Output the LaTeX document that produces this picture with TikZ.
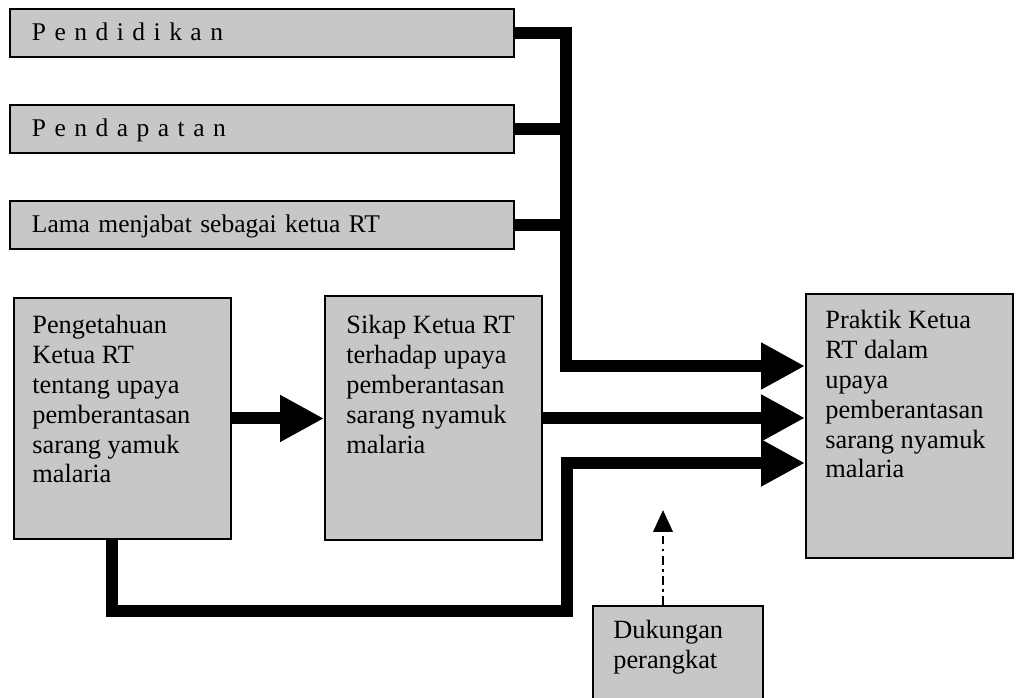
\documentclass[tikz,border=0pt]{standalone}
\usepackage{fontspec}
\setmainfont{Liberation Serif}
\usetikzlibrary{arrows.meta}
\definecolor{boxgray}{gray}{0.78}

\begin{document}
\begin{tikzpicture}[x=0.02cm, y=-0.02cm,
	box/.style={draw=black, line width=1.1pt, fill=boxgray, inner sep=0pt},
	topbox/.style={box, minimum height=0.96cm, text width=9.2cm, inner xsep=0.44cm,
		align=left, text height=0.36cm, text depth=0.06cm, font=\fontsize{14.5}{16}\selectfont},
	txt/.style={align=left, inner sep=0pt, font=\fontsize{15}{17}\selectfont},
	tebal/.style={line width=6.8pt},
	panah/.style={tebal, -{Triangle[length=25pt, width=25pt]}},
	putus/.style={line width=1.6pt, dash pattern=on 5pt off 2.5pt on 1.5pt off 2.5pt,
		-{Triangle[length=12.5pt, width=11pt]}}]
	\useasboundingbox (0,0) rectangle (1016,697);
	\clip (0,0) rectangle (1016,697);
	% kotak atas
	\node[topbox, anchor=north west] (pendidikan) at (9,8) {P e n d i d i k a n};
	\node[topbox, anchor=north west] (pendapatan) at (9,104) {P e n d a p a t a n};
	\node[topbox, anchor=north west] (lama) at (9,200) {Lama menjabat sebagai ketua RT};
	% kotak besar
	\node[box, minimum width=4.34cm, minimum height=4.82cm, anchor=north west]
		(pengetahuan) at (13,297) {};
	\node[txt, anchor=north west] (pengetahuanteks) at ([shift={(19,18)}]pengetahuan.north west)
		{Pengetahuan\\Ketua RT\\tentang upaya\\pemberantasan\\sarang yamuk\\malaria};
	\node[box, minimum width=4.34cm, minimum height=4.88cm, anchor=north west]
		(sikap) at (324,295) {};
	\node[txt, anchor=north west] (sikapteks) at ([shift={(22,20)}]sikap.north west)
		{Sikap Ketua RT\\terhadap upaya\\pemberantasan\\sarang nyamuk\\malaria};
	\node[box, minimum width=4.14cm, minimum height=5.28cm, anchor=north west]
		(praktik) at (805,293) {};
	\node[txt, anchor=north west] (praktikteks) at ([shift={(20,17)}]praktik.north west)
		{Praktik Ketua\\RT dalam\\upaya\\pemberantasan\\sarang nyamuk\\malaria};
	\node[box, minimum width=3.4cm, minimum height=2.4cm, anchor=north west]
		(dukungan) at (592,605) {};
	\node[txt, anchor=north west] (dukunganteks) at ([shift={(21,15)}]dukungan.north west)
		{Dukungan\\perangkat};
	% titik belok
	\coordinate (simpul1) at (566,366);
	\coordinate (simpul2) at (567,463);
	\coordinate (bawah) at (112,611);
	\coordinate (ujung) at (663,510);
	% garis
	\draw[tebal] (pendapatan.east) -- (pendapatan.east -| simpul1);
	\draw[tebal] (lama.east) -- (lama.east -| simpul1);
	\draw[panah] (pendidikan.east) -| (simpul1) -- (simpul1 -| praktik.west);
	\draw[panah] (pengetahuan.east) -- (pengetahuan.east -| sikap.west);
	\draw[panah] (sikap.east) -- (sikap.east -| praktik.west);
	\draw[panah] (pengetahuan.south -| bawah) -- (bawah) -| (simpul2) -- (simpul2 -| praktik.west);
	\draw[putus] (dukungan.north -| ujung) -- (ujung);
\end{tikzpicture}
\end{document}
